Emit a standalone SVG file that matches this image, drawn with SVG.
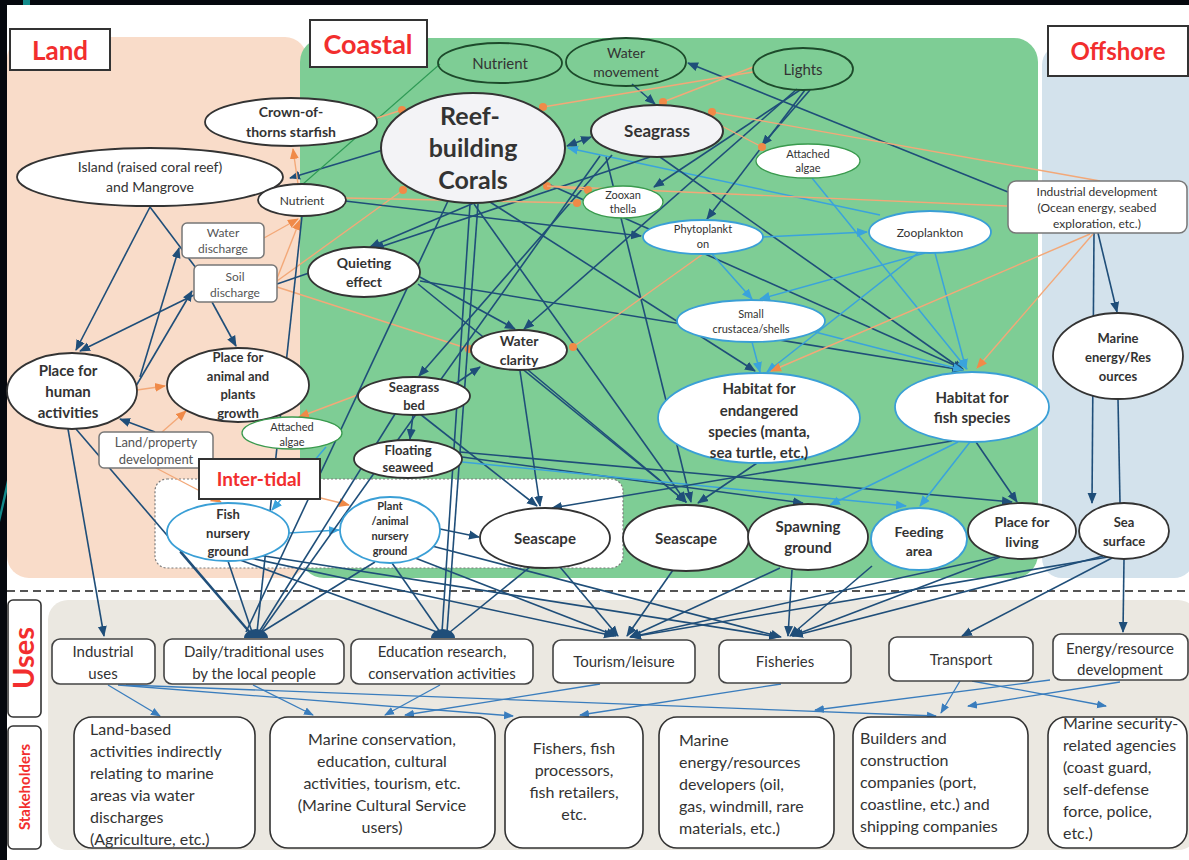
<svg xmlns="http://www.w3.org/2000/svg" width="1189" height="860" viewBox="0 0 1189 860">
<style>
text{font-family:Lato,"Liberation Sans",sans-serif;fill:#333;text-anchor:middle}
.b{font-weight:bold}
.lbl{fill:#f22e2e;font-weight:bold}
.n{fill:#fff;stroke:#333;stroke-width:1.8}
.nc{fill:#f3f3f6;stroke:#333;stroke-width:2}
.nb{fill:#fff;stroke:#3a9fd6;stroke-width:1.8}
.ng{fill:#fff;stroke:#3a9a4e;stroke-width:1.3}
.nt{fill:none;stroke:#1d4a2b;stroke-width:1.8}
.box{fill:#fff;stroke:#777;stroke-width:1.5}
.ubox{fill:#fff;stroke:#444;stroke-width:1.6}
.sbox{fill:#fff;stroke:#333;stroke-width:1.6}
.gt{fill:#555}
.db{stroke:#1f4e79;stroke-width:1.6;fill:none}
.lb{stroke:#3aa3dc;stroke-width:1.5;fill:none}
.or{stroke:#f3a878;stroke-width:1.4;fill:none}
.mb{stroke:#3a7dbd;stroke-width:1.3;fill:none}
.gr{stroke:#2e9a55;stroke-width:1.1;fill:none}
.s11{font-size:11px}.s12{font-size:12px}.s13{font-size:13px}.s14{font-size:14px}.s15{font-size:15px}.s16{font-size:16px}
.st text{font-size:16px}
</style>
<defs>
<marker id="aDB" markerWidth="11" markerHeight="10" refX="10" refY="5" orient="auto-start-reverse" markerUnits="userSpaceOnUse"><path d="M0,0.5 L11,5 L0,9.5 z" fill="#1f4e79"/></marker>
<marker id="aLB" markerWidth="11" markerHeight="10" refX="10" refY="5" orient="auto" markerUnits="userSpaceOnUse"><path d="M0,0.5 L11,5 L0,9.5 z" fill="#3aa3dc"/></marker>
<marker id="aOR" markerWidth="11" markerHeight="10" refX="10" refY="5" orient="auto" markerUnits="userSpaceOnUse"><path d="M0,0.5 L11,5 L0,9.5 z" fill="#f08a48"/></marker>
<marker id="aMB" markerWidth="10" markerHeight="9" refX="9" refY="4.5" orient="auto" markerUnits="userSpaceOnUse"><path d="M0,0.5 L10,4.5 L0,8.5 z" fill="#3a7dbd"/></marker>
<marker id="dOR" markerWidth="9" markerHeight="9" refX="4.5" refY="4.5" markerUnits="userSpaceOnUse"><circle cx="4.5" cy="4.5" r="4" fill="#f08a48"/></marker>
</defs>

<!-- page frame -->
<rect x="0" y="0" width="1189" height="860" fill="#05080e"/>
<rect x="7" y="5" width="1182" height="855" fill="#fff"/>
<rect x="23" y="0" width="7" height="5" fill="#138a8a"/>
<polygon points="0,512 7,480 7,492 0,522" fill="#138a8a"/>

<!-- zones -->
<g id="zones">
<rect x="7" y="37" width="300" height="541" rx="22" fill="#f9dcc9"/>
<rect x="300" y="38" width="738" height="540" rx="24" fill="#7ecd95"/>
<rect x="1042" y="45" width="152" height="533" rx="20" fill="#d3e2ec"/>
<rect x="155" y="479" width="468" height="89" rx="12" fill="#fff" stroke="#7a7a7a" stroke-width="1.2" stroke-dasharray="2 2"/>
<line x1="7" y1="591" x2="1189" y2="591" stroke="#555" stroke-width="2" stroke-dasharray="8 5"/>
<rect x="48" y="600" width="1150" height="250" rx="20" fill="#ebe8e1"/>
</g>

<!-- zone titles -->
<g id="zone-labels">
<rect x="10" y="29" width="100" height="41" fill="#fff" stroke="#333" stroke-width="2"/>
<text x="60" y="60" class="lbl" style="font-size:26px">Land</text>
<rect x="310" y="20" width="117" height="47" fill="#fff" stroke="#333" stroke-width="2"/>
<text x="368" y="54" class="lbl" style="font-size:27px">Coastal</text>
<rect x="1048" y="26" width="140" height="50" fill="#fff" stroke="#333" stroke-width="2"/>
<text x="1118" y="60" class="lbl" style="font-size:24px">Offshore</text>
<rect x="8" y="600" width="33" height="117" rx="5" fill="#fff" stroke="#333" stroke-width="1.6"/>
<text transform="translate(34,658) rotate(-90)" class="lbl" style="font-size:29px">Uses</text>
<rect x="8" y="726" width="33" height="123" rx="5" fill="#fff" stroke="#333" stroke-width="1.6"/>
<text transform="translate(30,787) rotate(-90)" class="lbl" style="font-size:15px">Stakeholders</text>
</g>

<!-- connectors -->
<g id="connectors">
<!-- land -->
<path class="db" d="M383,150 L290,178" marker-end="url(#aDB)"/>
<path class="gr" d="M440,64 L303,184"/>
<path class="or" d="M298,184 L293,149" marker-end="url(#aOR)"/>
<path class="or" d="M264,238 L298,219" marker-end="url(#aOR)"/>
<path class="or" d="M276,281 L300,220" marker-end="url(#aOR)"/>
<path class="db" d="M150,207 L76,350" marker-end="url(#aDB)"/>
<path class="db" d="M150,207 L196,268"/>
<path class="db" d="M140,377 L179,248" marker-end="url(#aDB)"/>
<path class="db" d="M136,386 L192,291" marker-end="url(#aDB)"/>
<path class="db" d="M196,294 L80,351" marker-end="url(#aDB)"/>
<path class="db" d="M212,302 L236,346" marker-end="url(#aDB)"/>
<path class="db" d="M277,284 L309,273"/>
<path class="or" d="M277,287 L469,349" marker-end="url(#dOR)"/>
<path class="or" d="M277,281 L403,190" marker-end="url(#dOR)"/>
<path class="or" d="M137,390 L165,386" marker-end="url(#aOR)"/>
<path class="db" d="M155,432 L120,419" marker-end="url(#aDB)"/>
<path class="or" d="M162,432 L186,411" marker-end="url(#aOR)"/>
<path class="or" d="M156,468 L221,502" marker-end="url(#aOR)"/>
<path class="or" d="M200,468 L349,505" marker-end="url(#aOR)"/>
<path class="or" d="M360,394 L299,417" marker-end="url(#aOR)"/>
<path class="lb" d="M326,447 L272,510" marker-end="url(#aLB)"/>
<path class="lb" d="M289,533 L339,530" marker-end="url(#aLB)"/>
<path class="db" d="M440,529 L479,537" marker-end="url(#aDB)"/>
<path class="db" d="M68,429 L104,636" marker-end="url(#aDB)"/>
<path class="db" d="M76,429 L250,632"/>
<path class="db" d="M302,216 L257,632"/>
<!-- coastal: drivers and corals -->
<path class="db" d="M1008,192 L688,63" marker-end="url(#aDB)"/>
<path class="db" d="M632,84 L655,104" marker-end="url(#aDB)"/>
<path class="db" d="M567,146 L591,137" marker-start="url(#aDB)" marker-end="url(#aDB)"/>
<path class="lb" d="M880,215 L568,148" marker-end="url(#aLB)"/>
<path class="db" d="M800,90 L654,187" marker-end="url(#aDB)"/>
<path class="db" d="M805,90 L707,219" marker-end="url(#aDB)"/>
<path class="db" d="M810,90 L762,145" marker-end="url(#aDB)"/>
<path class="db" d="M797,89 L524,329" marker-end="url(#aDB)"/>
<path class="db" d="M612,155 L419,376" marker-end="url(#aDB)"/>
<path class="db" d="M650,157 L374,249" marker-end="url(#aDB)"/>
<path class="db" d="M474,203 L370,247" marker-end="url(#aDB)"/>
<path class="db" d="M660,157 L963,370" marker-end="url(#aDB)"/>
<path class="db" d="M490,202 L755,371" marker-end="url(#aDB)"/>
<path class="db" d="M548,184 L963,369" marker-end="url(#aDB)"/>
<path class="db" d="M474,204 L686,502" marker-end="url(#aDB)"/>
<path class="db" d="M418,284 L686,502" marker-end="url(#aDB)"/>
<path class="db" d="M606,157 L691,502" marker-end="url(#aDB)"/>
<path class="db" d="M418,276 L515,329" marker-end="url(#aDB)"/>
<path class="db" d="M420,281 L962,370" marker-end="url(#aDB)"/>
<path class="db" d="M345,201 L641,236" marker-end="url(#aDB)"/>
<path class="db" d="M520,371 L540,506" marker-end="url(#aDB)"/>
<path class="db" d="M420,414 L537,506" marker-end="url(#aDB)"/>
<path class="db" d="M528,370 L686,502" marker-end="url(#aDB)"/>
<path class="db" d="M413,415 L410,439" marker-end="url(#aDB)"/>
<path class="db" d="M455,384 L480,367" marker-end="url(#aDB)"/>
<path class="db" d="M462,457 L803,503" marker-end="url(#aDB)"/>
<path class="lb" d="M462,462 L906,506" marker-end="url(#aLB)"/>
<path class="db" d="M460,452 L1012,502" marker-end="url(#aDB)"/>
<path class="db" d="M757,463 L698,503" marker-end="url(#aDB)"/>
<path class="db" d="M952,441 L552,508" marker-end="url(#aDB)"/>
<path class="lb" d="M958,442 L830,505" marker-end="url(#aLB)"/>
<path class="lb" d="M970,442 L920,506" marker-end="url(#aLB)"/>
<path class="db" d="M976,442 L1017,502" marker-end="url(#aDB)"/>
<!-- plankton web -->
<path class="lb" d="M763,237 L867,232" marker-end="url(#aLB)"/>
<path class="lb" d="M712,254 L752,299" marker-end="url(#aLB)"/>
<path class="lb" d="M925,253 L760,299" marker-end="url(#aLB)"/>
<path class="lb" d="M918,253 L767,372" marker-end="url(#aLB)"/>
<path class="lb" d="M935,253 L966,369" marker-end="url(#aLB)"/>
<path class="lb" d="M752,342 L760,372" marker-end="url(#aLB)"/>
<path class="lb" d="M815,332 L963,370" marker-end="url(#aLB)"/>
<path class="lb" d="M812,178 L967,369" marker-end="url(#aLB)"/>
<!-- offshore -->
<path class="db" d="M1098,233 L1117,312" marker-end="url(#aDB)"/>
<path class="db" d="M1094,233 L1092,503" marker-end="url(#aDB)"/>
<path class="db" d="M1118,399 L1120,503"/>
<!-- orange influences -->
<path class="or" d="M1100,181 L712,112" marker-end="url(#dOR)"/>
<path class="or" d="M1007,206 L547,186" marker-end="url(#dOR)"/>
<path class="or" d="M1093,234 L977,368" marker-end="url(#aOR)"/>
<path class="or" d="M1090,234 L771,371" marker-end="url(#aOR)"/>
<path class="or" d="M753,67 L663,102" marker-end="url(#dOR)"/>
<path class="or" d="M753,72 L543,107" marker-end="url(#dOR)"/>
<path class="or" d="M718,124 L762,147" marker-end="url(#dOR)"/>
<path class="or" d="M547,186 L588,190" marker-end="url(#dOR)"/>
<path class="or" d="M345,198 L577,203" marker-end="url(#dOR)"/>
<path class="or" d="M703,254 L573,347" marker-end="url(#dOR)"/>
<path class="or" d="M377,118 L402,110" marker-end="url(#dOR)"/>
<!-- to uses -->
<path class="db" d="M448,201 L246,632"/>
<path class="db" d="M600,156 L261,632"/>
<path class="db" d="M395,414 L259,632"/>
<path class="db" d="M228,561 L252,632"/>
<path class="db" d="M180,552 L249,632"/>
<path class="db" d="M375,562 L262,632"/>
<path class="db" d="M470,204 L442,632"/>
<path class="db" d="M478,204 L447,632"/>
<path class="db" d="M240,560 L437,632"/>
<path class="db" d="M392,563 L440,632"/>
<path class="db" d="M530,567 L450,632"/>
<path class="db" d="M250,558 L614,636" marker-end="url(#aDB)"/>
<path class="db" d="M410,556 L616,636" marker-end="url(#aDB)"/>
<path class="db" d="M560,567 L618,636" marker-end="url(#aDB)"/>
<path class="db" d="M673,570 L627,636" marker-end="url(#aDB)"/>
<path class="db" d="M780,568 L630,637" marker-end="url(#aDB)"/>
<path class="db" d="M1000,556 L631,637" marker-end="url(#aDB)"/>
<path class="db" d="M1108,557 L631,637" marker-end="url(#aDB)"/>
<path class="db" d="M258,555 L779,637" marker-end="url(#aDB)"/>
<path class="db" d="M432,546 L781,637" marker-end="url(#aDB)"/>
<path class="db" d="M792,570 L788,636" marker-end="url(#aDB)"/>
<path class="db" d="M872,566 L790,636" marker-end="url(#aDB)"/>
<path class="db" d="M1000,557 L792,636" marker-end="url(#aDB)"/>
<path class="db" d="M1103,556 L793,636" marker-end="url(#aDB)"/>
<path class="db" d="M1112,558 L962,636" marker-end="url(#aDB)"/>
<path class="db" d="M1124,559 L1123,632" marker-end="url(#aDB)"/>
<path d="M244,638 A12,9 0 0 1 268,638 Z" fill="#1f4e79"/>
<path d="M431,638 A12,9 0 0 1 455,638 Z" fill="#1f4e79"/>
<!-- uses to stakeholders -->
<path class="mb" d="M108,685 L160,716" marker-end="url(#aMB)"/>
<path class="mb" d="M118,685 L513,716" marker-end="url(#aMB)"/>
<path class="mb" d="M126,685 L936,716" marker-end="url(#aMB)"/>
<path class="mb" d="M253,685 L313,715" marker-end="url(#aMB)"/>
<path class="mb" d="M440,685 L385,715" marker-end="url(#aMB)"/>
<path class="mb" d="M600,684 L405,715" marker-end="url(#aMB)"/>
<path class="mb" d="M781,684 L580,715" marker-end="url(#aMB)"/>
<path class="mb" d="M960,681 L941,713" marker-end="url(#aMB)"/>
<path class="mb" d="M972,681 L1106,706" marker-end="url(#aMB)"/>
<path class="mb" d="M1050,680 L815,710" marker-end="url(#aMB)"/>
<path class="mb" d="M1120,682 L968,706" marker-end="url(#aMB)"/>
</g>

<!-- coastal drivers -->
<g id="nutrient-top"><ellipse cx="500" cy="63" rx="62" ry="20" class="nt"/><text x="500" y="69" class="s15">Nutrient</text></g>
<g id="water-movement"><ellipse cx="626" cy="62" rx="60" ry="24" class="nt"/><text x="626" y="58" class="s14">Water</text><text x="626" y="77" class="s14">movement</text></g>
<g id="lights"><ellipse cx="803" cy="69" rx="50" ry="21" class="nt"/><text x="803" y="75" class="s15">Lights</text></g>
<g id="reef-corals"><ellipse cx="473" cy="148" rx="92" ry="55" class="nc"/><text x="470" y="125" class="b" style="font-size:25px">Reef-</text><text x="473" y="157" class="b" style="font-size:25px">building</text><text x="473" y="189" class="b" style="font-size:25px">Corals</text></g>
<g id="seagrass"><ellipse cx="657" cy="131" rx="66" ry="26" class="nc"/><text x="657" y="137" class="b" style="font-size:17px">Seagrass</text></g>
<g id="attached-algae-top"><ellipse cx="808" cy="161" rx="52" ry="17" class="ng"/><text x="808" y="158" class="s11">Attached</text><text x="808" y="172" class="s11">algae</text></g>
<g id="zooxanthella"><ellipse cx="623" cy="202" rx="40" ry="16" class="ng"/><text x="623" y="199" class="s11">Zooxan</text><text x="623" y="213" class="s11">thella</text></g>
<g id="phytoplankton"><ellipse cx="703" cy="237" rx="60" ry="17" class="nb"/><text x="703" y="233" class="s11">Phytoplankt</text><text x="703" y="248" class="s11">on</text></g>
<g id="zooplankton"><ellipse cx="930" cy="232" rx="61" ry="21" class="nb"/><text x="930" y="237" class="s12">Zooplankton</text></g>
<g id="industrial-development"><rect x="1008" y="181" width="179" height="52" rx="8" class="box"/><text x="1097" y="196" class="s12">Industrial development</text><text x="1097" y="212" class="s12">(Ocean energy, seabed</text><text x="1097" y="228" class="s12">exploration, etc.)</text></g>

<!-- land -->
<g id="crown-of-thorns"><ellipse cx="291" cy="122" rx="86" ry="24" class="n"/><text x="291" y="117" class="b s14">Crown-of-</text><text x="291" y="137" class="b s14">thorns starfish</text></g>
<g id="island-mangrove"><ellipse cx="150" cy="177" rx="133" ry="29" class="n"/><text x="150" y="172" class="s14">Island (raised coral reef)</text><text x="150" y="192" class="s14">and Mangrove</text></g>
<g id="nutrient-land"><ellipse cx="302" cy="200" rx="44" ry="16" class="n"/><text x="302" y="205" class="s12">Nutrient</text></g>
<g id="water-discharge"><rect x="182" y="223" width="82" height="35" rx="5" class="box"/><text x="223" y="237" class="s12 gt">Water</text><text x="223" y="253" class="s12 gt">discharge</text></g>
<g id="soil-discharge"><rect x="194" y="265" width="83" height="37" rx="5" class="box"/><text x="235" y="281" class="s12 gt">Soil</text><text x="235" y="297" class="s12 gt">discharge</text></g>
<g id="quieting-effect"><ellipse cx="364" cy="272" rx="56" ry="25" class="n"/><text x="364" y="268" class="b s14">Quieting</text><text x="364" y="287" class="b s14">effect</text></g>
<g id="human-activities"><ellipse cx="72" cy="391" rx="65" ry="38" class="n"/><text x="68" y="376" class="b s15">Place for</text><text x="68" y="397" class="b s15">human</text><text x="68" y="418" class="b s15">activities</text></g>
<g id="animal-plants-growth"><ellipse cx="238" cy="385" rx="71" ry="37" class="n"/><text x="238" y="362" class="b s13">Place for</text><text x="238" y="381" class="b s13">animal and</text><text x="238" y="399" class="b s13">plants</text><text x="238" y="418" class="b s13">growth</text></g>
<g id="land-property"><rect x="99" y="432" width="114" height="36" rx="5" class="box"/><text x="156" y="447" class="s13 gt">Land/property</text><text x="156" y="464" class="s13 gt">development</text></g>
<g id="attached-algae-low"><ellipse cx="292" cy="433" rx="50" ry="16" class="ng"/><text x="292" y="431" class="s11">Attached</text><text x="292" y="446" class="s11">algae</text></g>

<!-- inter-tidal -->
<g id="intertidal-label"><rect x="199" y="459" width="121" height="40" fill="#fff" stroke="#333" stroke-width="2"/><text x="259" y="486" class="lbl" style="font-size:19px">Inter-tidal</text></g>
<g id="fish-nursery"><ellipse cx="228" cy="532" rx="61" ry="29" class="nb"/><text x="228" y="519" class="b s13">Fish</text><text x="228" y="538" class="b s13">nursery</text><text x="228" y="556" class="b s13">ground</text></g>
<g id="plant-animal-nursery"><ellipse cx="390" cy="530" rx="50" ry="33" class="nb"/><text x="390" y="510" class="b s11">Plant</text><text x="390" y="525" class="b s11">/animal</text><text x="390" y="540" class="b s11">nursery</text><text x="390" y="555" class="b s11">ground</text></g>
<g id="seascape-intertidal"><ellipse cx="545" cy="538" rx="65" ry="30" class="n"/><text x="545" y="544" class="b s15">Seascape</text></g>

<!-- coastal habitats -->
<g id="seagrass-bed"><ellipse cx="414" cy="396" rx="56" ry="19" class="n"/><text x="414" y="392" class="b s13">Seagrass</text><text x="414" y="410" class="b s13">bed</text></g>
<g id="water-clarity"><ellipse cx="519" cy="350" rx="48" ry="20" class="n"/><text x="519" y="346" class="b s14">Water</text><text x="519" y="365" class="b s14">clarity</text></g>
<g id="floating-seaweed"><ellipse cx="408" cy="459" rx="54" ry="19" class="n"/><text x="408" y="455" class="b s13">Floating</text><text x="408" y="472" class="b s13">seaweed</text></g>
<g id="small-crustacea"><ellipse cx="751" cy="321" rx="74" ry="21" class="nb"/><text x="751" y="318" class="s11">Small</text><text x="751" y="333" class="s11">crustacea/shells</text></g>
<g id="habitat-endangered"><ellipse cx="759" cy="418" rx="101" ry="45" class="nb"/><text x="759" y="394" class="b s15">Habitat for</text><text x="759" y="416" class="b s15">endangered</text><text x="759" y="437" class="b s15">species (manta,</text><text x="759" y="458" class="b s15">sea turtle, etc.)</text></g>
<g id="habitat-fish"><ellipse cx="972" cy="407" rx="77" ry="35" class="nb"/><text x="972" y="403" class="b s15">Habitat for</text><text x="972" y="423" class="b s15">fish species</text></g>
<g id="seascape-coastal"><ellipse cx="686" cy="538" rx="63" ry="33" class="n"/><text x="686" y="544" class="b s15">Seascape</text></g>
<g id="spawning-ground"><ellipse cx="808" cy="537" rx="60" ry="33" class="n"/><text x="808" y="532" class="b s15">Spawning</text><text x="808" y="553" class="b s15">ground</text></g>
<g id="feeding-area"><ellipse cx="919" cy="539" rx="48" ry="31" class="nb"/><text x="919" y="537" class="b s14">Feeding</text><text x="919" y="556" class="b s14">area</text></g>
<g id="place-for-living"><ellipse cx="1022" cy="531" rx="54" ry="28" class="n"/><text x="1022" y="527" class="b s14">Place for</text><text x="1022" y="547" class="b s14">living</text></g>

<!-- offshore -->
<g id="marine-energy"><ellipse cx="1118" cy="356" rx="65" ry="43" class="n"/><text x="1118" y="343" class="b s13">Marine</text><text x="1118" y="362" class="b s13">energy/Res</text><text x="1118" y="381" class="b s13">ources</text></g>
<g id="sea-surface"><ellipse cx="1124" cy="531" rx="45" ry="28" class="n"/><text x="1124" y="527" class="b s13">Sea</text><text x="1124" y="546" class="b s13">surface</text></g>

<!-- uses -->
<g id="use-industrial"><rect x="52" y="639" width="103" height="45" rx="8" class="ubox"/><text x="103" y="657" class="s15">Industrial</text><text x="103" y="679" class="s15">uses</text></g>
<g id="use-daily"><rect x="164" y="639" width="180" height="45" rx="8" class="ubox"/><text x="254" y="657" class="s15">Daily/traditional uses</text><text x="254" y="679" class="s15">by the local people</text></g>
<g id="use-education"><rect x="351" y="639" width="182" height="45" rx="8" class="ubox"/><text x="442" y="657" class="s15">Education research,</text><text x="442" y="679" class="s15">conservation activities</text></g>
<g id="use-tourism"><rect x="553" y="640" width="142" height="43" rx="8" class="ubox"/><text x="624" y="667" class="s15">Tourism/leisure</text></g>
<g id="use-fisheries"><rect x="719" y="640" width="132" height="43" rx="8" class="ubox"/><text x="785" y="667" class="s15">Fisheries</text></g>
<g id="use-transport"><rect x="889" y="637" width="144" height="44" rx="8" class="ubox"/><text x="961" y="665" class="s15">Transport</text></g>
<g id="use-energy"><rect x="1053" y="634" width="135" height="46" rx="8" class="ubox"/><text x="1120" y="654" class="s15">Energy/resource</text><text x="1120" y="675" class="s15">development</text></g>

<!-- stakeholders -->
<g id="sh-land-based" class="st"><rect x="74" y="717" width="181" height="131" rx="18" class="sbox"/>
<text x="90" y="735" style="text-anchor:start">Land-based</text><text x="90" y="757" style="text-anchor:start">activities indirectly</text><text x="90" y="779" style="text-anchor:start">relating to marine</text><text x="90" y="801" style="text-anchor:start">areas via water</text><text x="90" y="823" style="text-anchor:start">discharges</text><text x="90" y="845" style="text-anchor:start">(Agriculture, etc.)</text></g>
<g id="sh-marine-conservation" class="st"><rect x="270" y="717" width="225" height="131" rx="18" class="sbox"/>
<text x="382" y="745">Marine conservation,</text><text x="382" y="767">education, cultural</text><text x="382" y="789">activities, tourism, etc.</text><text x="382" y="811">(Marine Cultural Service</text><text x="382" y="833">users)</text></g>
<g id="sh-fishers" class="st"><rect x="505" y="717" width="138" height="131" rx="18" class="sbox"/>
<text x="574" y="754">Fishers, fish</text><text x="574" y="776">processors,</text><text x="574" y="798">fish  retailers,</text><text x="574" y="820">etc.</text></g>
<g id="sh-marine-energy" class="st"><rect x="659" y="717" width="175" height="131" rx="18" class="sbox"/>
<text x="679" y="746" style="text-anchor:start">Marine</text><text x="679" y="768" style="text-anchor:start">energy/resources</text><text x="679" y="790" style="text-anchor:start">developers (oil,</text><text x="679" y="812" style="text-anchor:start">gas, windmill, rare</text><text x="679" y="834" style="text-anchor:start">materials, etc.)</text></g>
<g id="sh-builders" class="st"><rect x="853" y="717" width="175" height="131" rx="18" class="sbox"/>
<text x="860" y="744" style="text-anchor:start">Builders and</text><text x="860" y="766" style="text-anchor:start">construction</text><text x="860" y="788" style="text-anchor:start">companies (port,</text><text x="860" y="810" style="text-anchor:start">coastline, etc.) and</text><text x="860" y="832" style="text-anchor:start">shipping companies</text></g>
<g id="sh-security" class="st"><rect x="1048" y="717" width="139" height="131" rx="18" class="sbox"/>
<text x="1063" y="729" style="text-anchor:start">Marine security-</text><text x="1063" y="751" style="text-anchor:start">related agencies</text><text x="1063" y="773" style="text-anchor:start">(coast guard,</text><text x="1063" y="795" style="text-anchor:start">self-defense</text><text x="1063" y="817" style="text-anchor:start">force, police,</text><text x="1063" y="839" style="text-anchor:start">etc.)</text></g>
</svg>
